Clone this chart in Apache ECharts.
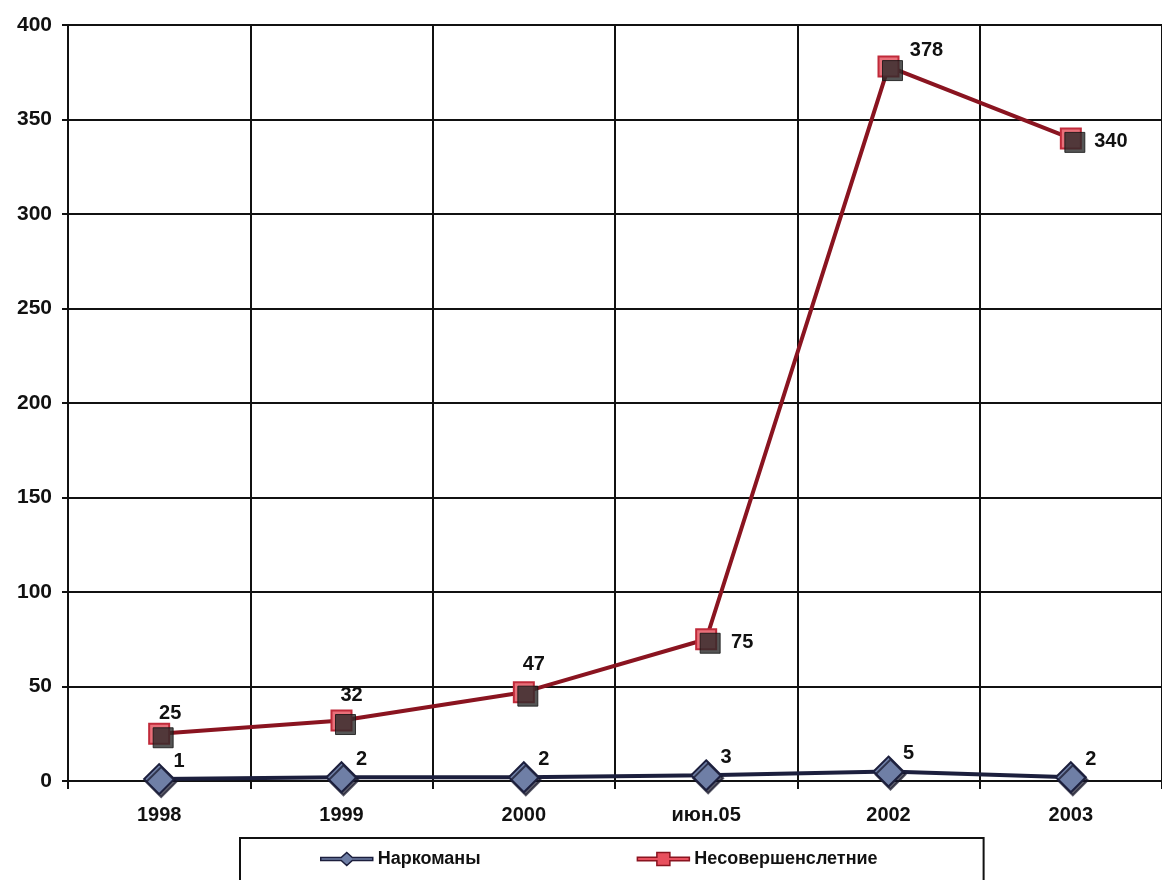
<!DOCTYPE html>
<html><head><meta charset="utf-8">
<script src="https://cdn.jsdelivr.net/npm/echarts@6/dist/echarts.min.js"></script>
<style>html,body{margin:0;padding:0;background:#fff}#c{width:1162px;height:880px}</style>
</head><body><div id="c"></div>
<script>
var categories = ['1998', '1999', '2000', 'июн.05', '2002', '2003'];
var narkomany = [1, 2, 2, 3, 5, 2];
var nesover = [25, 32, 47, 75, 378, 340];
var yTicks = [0, 50, 100, 150, 200, 250, 300, 350, 400];
var seriesNames = ['Наркоманы', 'Несовершенслетние'];

// label placement (styling only)
var nesoverLabelOffsets = [[11, -20], [10, -25], [10, -28], [36, 3], [38, -16], [40, 3]];

var FONT = '"Liberation Sans", Arial, sans-serif';
var lbl = {show: true, color: '#111', fontFamily: FONT, fontWeight: 'bold', fontSize: 20};

var nesoverData = nesover.map(function (v, i) {
  return {value: v, label: {offset: nesoverLabelOffsets[i]}};
});

var chart = echarts.init(document.getElementById('c'));
chart.setOption({
  animation: false,
  backgroundColor: '#fff',
  grid: {left: 68, top: 25, width: 1098, height: 756},
  xAxis: {
    type: 'category', data: categories, boundaryGap: true,
    axisLine: {show: true, lineStyle: {color: '#111', width: 2}},
    axisTick: {show: true, length: 8, lineStyle: {color: '#111', width: 2}},
    splitLine: {show: true, lineStyle: {color: '#111', width: 2}},
    axisLabel: {color: '#111', fontFamily: FONT, fontWeight: 'bold', fontSize: 20, margin: 24}
  },
  yAxis: {
    type: 'value', min: yTicks[0], max: yTicks[yTicks.length - 1], interval: 50,
    axisLine: {show: true, lineStyle: {color: '#111', width: 2}},
    axisTick: {show: true, length: 6, lineStyle: {color: '#111', width: 2}},
    splitLine: {show: true, lineStyle: {color: '#111', width: 2}},
    axisLabel: {color: '#111', fontFamily: FONT, fontWeight: 'bold', fontSize: 21, margin: 16}
  },
  legend: {
    data: [
      {name: seriesNames[0], icon: 'path://M0,5.5 L22,5.5 L28,0 L34,5.5 L56,5.5 L56,8.5 L34,8.5 L28,14 L22,8.5 L0,8.5 Z',
       itemStyle: {color: '#6f7fa6', borderColor: '#1c1f3d', borderWidth: 1.5}},
      {name: seriesNames[1], icon: 'path://M0,5 L21,5 L21,0 L35,0 L35,5 L56,5 L56,9 L35,9 L35,14 L21,14 L21,9 L0,9 Z',
       itemStyle: {color: '#e8505e', borderColor: '#8a1420', borderWidth: 1.5}}
    ],
    left: 240, top: 838,
    padding: [12, 106, 18, 80],
    itemWidth: 52, itemHeight: 14, itemGap: 156,
    borderColor: '#111', borderWidth: 2,
    textStyle: {color: '#111', fontFamily: FONT, fontSize: 18, fontWeight: 'bold'}
  },
  series: [
    {
      name: seriesNames[0], type: 'line', data: narkomany, z: 3,
      symbol: 'diamond', symbolSize: 30,
      lineStyle: {color: '#1c1f3d', width: 4},
      itemStyle: {color: '#6f7fa6', borderColor: '#1c1f3d', borderWidth: 2,
                  shadowColor: 'rgba(20,20,40,0.7)', shadowOffsetX: 2, shadowOffsetY: 3, shadowBlur: 0},
      label: Object.assign({}, lbl, {position: 'inside', offset: [20, -18]})
    },
    {
      name: seriesNames[1], type: 'line', data: nesoverData, z: 4,
      symbol: 'rect', symbolSize: 20,
      lineStyle: {color: '#8a1420', width: 4},
      itemStyle: {color: '#e8707a', borderColor: '#c02a3a', borderWidth: 2},
      label: Object.assign({}, lbl, {position: 'inside'})
    },
    {
      name: 'shadow', type: 'scatter', data: nesover, z: 5,
      symbol: 'rect', symbolSize: 20, symbolOffset: [4, 4], silent: true,
      itemStyle: {color: '#2a2a2a', borderColor: '#111', borderWidth: 1}
    }
  ]
});
</script></body></html>
